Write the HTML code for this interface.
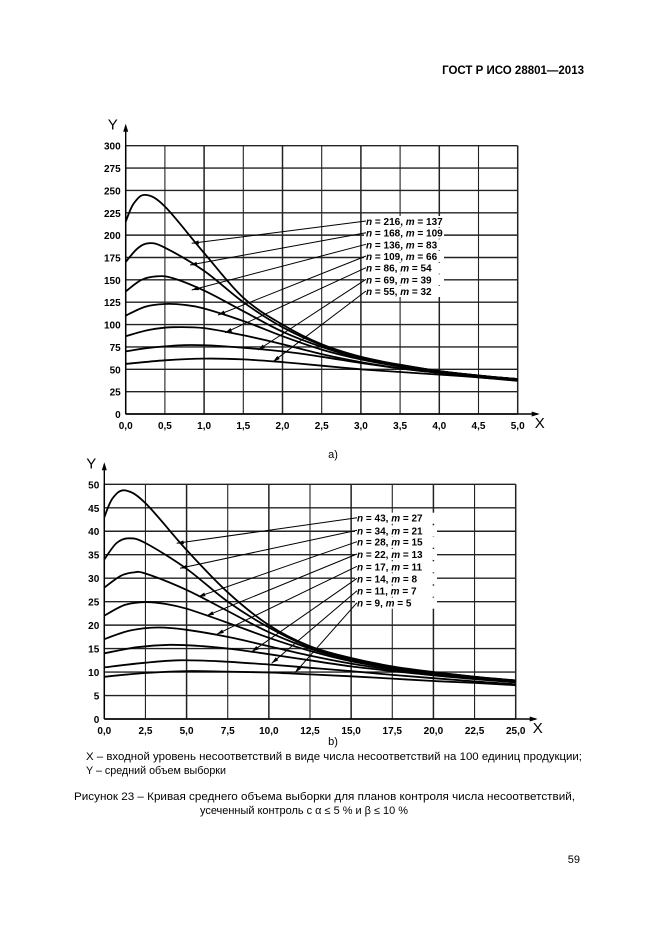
<!DOCTYPE html>
<html><head><meta charset="utf-8"><style>
body{margin:0;background:#fff;}
svg text{font-family:"Liberation Sans",Arial,sans-serif;fill:#000;}
</style></head><body>
<svg id="s" width="661" height="936" viewBox="0 0 661 936" xmlns="http://www.w3.org/2000/svg">
<rect width="661" height="936" fill="#fff"/>
<text x="584" y="74" font-size="11.5" font-weight="bold" text-anchor="end">ГОСТ Р ИСО 28801—2013</text>
<g id="g1"></g><g id="g2"></g>
<text x="333" y="458" font-size="11" text-anchor="middle">a)</text>
<text x="333" y="745" font-size="11" text-anchor="middle">b)</text>
<text x="86" y="760" font-size="10.6" textLength="496" lengthAdjust="spacingAndGlyphs">X – входной уровень несоответствий в виде числа несоответствий на 100 единиц продукции;</text>
<text x="86" y="774" font-size="10.6" textLength="140" lengthAdjust="spacingAndGlyphs">Y – средний объем выборки</text>
<text x="74" y="800" font-size="10.6" textLength="501" lengthAdjust="spacingAndGlyphs">Рисунок 23 – Кривая среднего объема выборки для планов контроля числа несоответствий,</text>
<text x="200" y="814" font-size="10.6" textLength="208" lengthAdjust="spacingAndGlyphs">усеченный контроль с α ≤ 5 % и β ≤ 10 %</text>
<text x="580" y="863" font-size="11" text-anchor="end">59</text>
</svg>
<script>
var NS="http://www.w3.org/2000/svg";
function el(p,t,a,txt){var e=document.createElementNS(NS,t);for(var k in a)e.setAttribute(k,a[k]);if(txt!==undefined)e.textContent=txt;p.appendChild(e);return e;}
function cr(pts){var d="M"+pts[0][0].toFixed(1)+","+pts[0][1].toFixed(1);
for(var i=0;i<pts.length-1;i++){var p0=pts[Math.max(0,i-1)],p1=pts[i],p2=pts[i+1],p3=pts[Math.min(pts.length-1,i+2)];
var c1=[p1[0]+(p2[0]-p0[0])/6,p1[1]+(p2[1]-p0[1])/6],c2=[p2[0]-(p3[0]-p1[0])/6,p2[1]-(p3[1]-p1[1])/6];
d+=" C"+c1[0].toFixed(1)+","+c1[1].toFixed(1)+" "+c2[0].toFixed(1)+","+c2[1].toFixed(1)+" "+p2[0].toFixed(1)+","+p2[1].toFixed(1);}return d;}
function chart(g,o){
 var X=function(v){return o.x0+(o.x1-o.x0)*v/o.xmax;},Y=function(v){return o.y0+(o.y1-o.y0)*v/o.ymax;};
 for(var i=0;i<=o.nx;i++){var v=o.xmax*i/o.nx;el(g,"line",{x1:X(v),x2:X(v),y1:o.y0,y2:o.y1,stroke:"#222","stroke-width":i%2?1.1:1.5});
  el(g,"text",{x:X(v),y:o.y0+15,"font-size":10,"font-weight":"bold","text-anchor":"middle"},v.toFixed(1).replace(".",","));}
 for(var j=0;j<=o.ny;j++){var w=o.ymax*j/o.ny;el(g,"line",{x1:o.x0,x2:o.x1,y1:Y(w),y2:Y(w),stroke:"#222","stroke-width":1.4});
  el(g,"text",{x:o.x0-5,y:Y(w)+4,"font-size":10,"font-weight":"bold","text-anchor":"end"},String(w));}
 el(g,"line",{x1:o.x0,x2:o.x0,y1:o.y0,y2:o.y1-20,stroke:"#000","stroke-width":1.4});
 el(g,"path",{d:"M"+(o.x0-2.5)+","+(o.y1-14)+" L"+o.x0+","+(o.y1-22)+" L"+(o.x0+2.5)+","+(o.y1-14)+"Z",fill:"#000"});
 el(g,"line",{x1:o.x0,x2:o.x1+20,y1:o.y0,y2:o.y0,stroke:"#000","stroke-width":1.4});
 el(g,"path",{d:"M"+(o.x1+14)+","+(o.y0-2.5)+" L"+(o.x1+22)+","+o.y0+" L"+(o.x1+14)+","+(o.y0+2.5)+"Z",fill:"#000"});
 el(g,"text",{x:o.x0-18,y:o.y1-16,"font-size":15},"Y");
 el(g,"text",{x:o.x1+17,y:o.y0+14,"font-size":15},"X");
 o.curves.forEach(function(c){el(g,"path",{d:cr(c.map(function(p){return [X(p[0]),Y(p[1])];})),fill:"none",stroke:"#000","stroke-width":1.8});});
 o.labels.forEach(function(l){
  el(g,"rect",{x:o.lx-2,y:l[0]-9,width:o.lw,height:11,fill:"#fff"});
  var t=el(g,"text",{x:o.lx,y:l[0],"font-size":10,"font-weight":"bold"});
  t.innerHTML='<tspan font-style="italic">n</tspan> = '+l[1]+', <tspan font-style="italic">m</tspan> = '+l[2];
  var dx=l[3]-o.lx,dy=l[4]-(l[0]-4),L=Math.hypot(dx,dy),ux=dx/L,uy=dy/L;
  el(g,"line",{x1:o.lx,y1:l[0]-4,x2:l[3],y2:l[4],stroke:"#000","stroke-width":1});
  var bx=l[3]-ux*7,by=l[4]-uy*7;
  el(g,"path",{d:"M"+l[3]+","+l[4]+" L"+(bx-uy*2)+","+(by+ux*2)+" L"+(bx+uy*2)+","+(by-ux*2)+"Z",fill:"#000"});
 });
}
chart(document.getElementById("g1"),{x0:125.7,x1:517.7,y0:414,y1:145.7,xmax:5,ymax:300,nx:10,ny:12,lx:366,lw:80,
curves:[
[[0,215],[0.1,235],[0.25,245],[0.5,232],[1,180],[1.5,130],[2,100],[2.5,78],[3,64],[3.5,55],[4,48],[4.5,43],[5,39]],
[[0,170],[0.15,185],[0.3,191],[0.5,186],[1,160],[1.5,125],[2,97],[2.5,77],[3,63],[3.5,55],[4,48],[4.5,43],[5,39]],
[[0,137],[0.2,150],[0.4,154],[0.6,152],[1,138],[1.5,115],[2,92],[2.5,75],[3,62],[3.5,54],[4,48],[4.5,43],[5,39]],
[[0,110],[0.25,120],[0.5,123],[0.75,122],[1,118],[1.5,104],[2,87],[2.5,72],[3,61],[3.5,53],[4,47],[4.5,42],[5,38]],
[[0,87],[0.3,94],[0.6,97],[1,96],[1.5,88],[2,78],[2.5,67],[3,58],[3.5,51],[4,46],[4.5,42],[5,38]],
[[0,70],[0.3,74],[0.75,77],[1.2,76],[2,70],[2.5,64],[3,57],[3.5,51],[4,46],[4.5,41],[5,38]],
[[0,56],[0.5,60],[1,62],[1.5,61],[2,58],[2.5,54],[3,50],[3.5,47],[4,44],[4.5,41],[5,37]]],
labels:[[225,216,137,191.7,243.3],[236.7,168,109,190,265],[248.3,136,83,191.7,290],[260,109,66,218,315],[271.7,86,54,225,332.7],[283.3,69,39,258,350],[295,55,32,273,361.7]]});
chart(document.getElementById("g2"),{x0:104.3,x1:515.7,y0:719,y1:484.3,xmax:25,ymax:50,nx:10,ny:10,lx:357,lw:82,
curves:[
[[0,43],[0.5,47],[1.25,48.7],[2.5,46],[5,36],[7.5,27],[10,20],[12.5,15.5],[15,13],[17.5,11.2],[20,10],[22.5,9],[25,8.2]],
[[0,34],[0.75,37.5],[1.5,38.5],[2.5,37.5],[5,32],[7.5,25],[10,19.5],[12.5,15.3],[15,12.8],[17.5,11],[20,10],[22.5,9],[25,8.2]],
[[0,28],[1,30.5],[1.75,31.2],[2.5,31],[5,27.5],[7.5,23],[10,18.5],[12.5,15],[15,12.6],[17.5,11],[20,9.9],[22.5,8.9],[25,8.1]],
[[0,22],[1.25,24.3],[2.5,24.9],[3.75,24.5],[5,23.5],[7.5,20.5],[10,17.3],[12.5,14.5],[15,12.3],[17.5,10.8],[20,9.7],[22.5,8.8],[25,8]],
[[0,17],[1.5,18.8],[3.25,19.5],[5,19],[7.5,17.5],[10,15.5],[12.5,13.5],[15,11.8],[17.5,10.5],[20,9.5],[22.5,8.6],[25,7.9]],
[[0,14],[2,15.3],[4,15.8],[6,15.5],[8,14.8],[10,13.8],[12.5,12.5],[15,11.2],[17.5,10.2],[20,9.3],[22.5,8.5],[25,7.8]],
[[0,11],[2.5,12],[4.5,12.5],[7,12.3],[10,11.6],[12.5,10.9],[15,10.2],[17.5,9.4],[20,8.7],[22.5,8],[25,7.4]],
[[0,9],[2.5,9.8],[5,10.2],[7.5,10.1],[10,9.9],[12.5,9.5],[15,9.1],[17.5,8.6],[20,8.1],[22.5,7.7],[25,7.2]]],
labels:[[521.7,43,27,176.7,543.3],[534.3,34,21,180,568.3],[545.7,28,15,198.3,596.7],[558,22,13,206.7,615.7],[570.3,17,11,216.7,634.3],[582.3,14,8,251.7,651.7],[594.7,11,7,271.7,663.3],[606.7,9,5,295,672.7]]});
</script>
</body></html>
